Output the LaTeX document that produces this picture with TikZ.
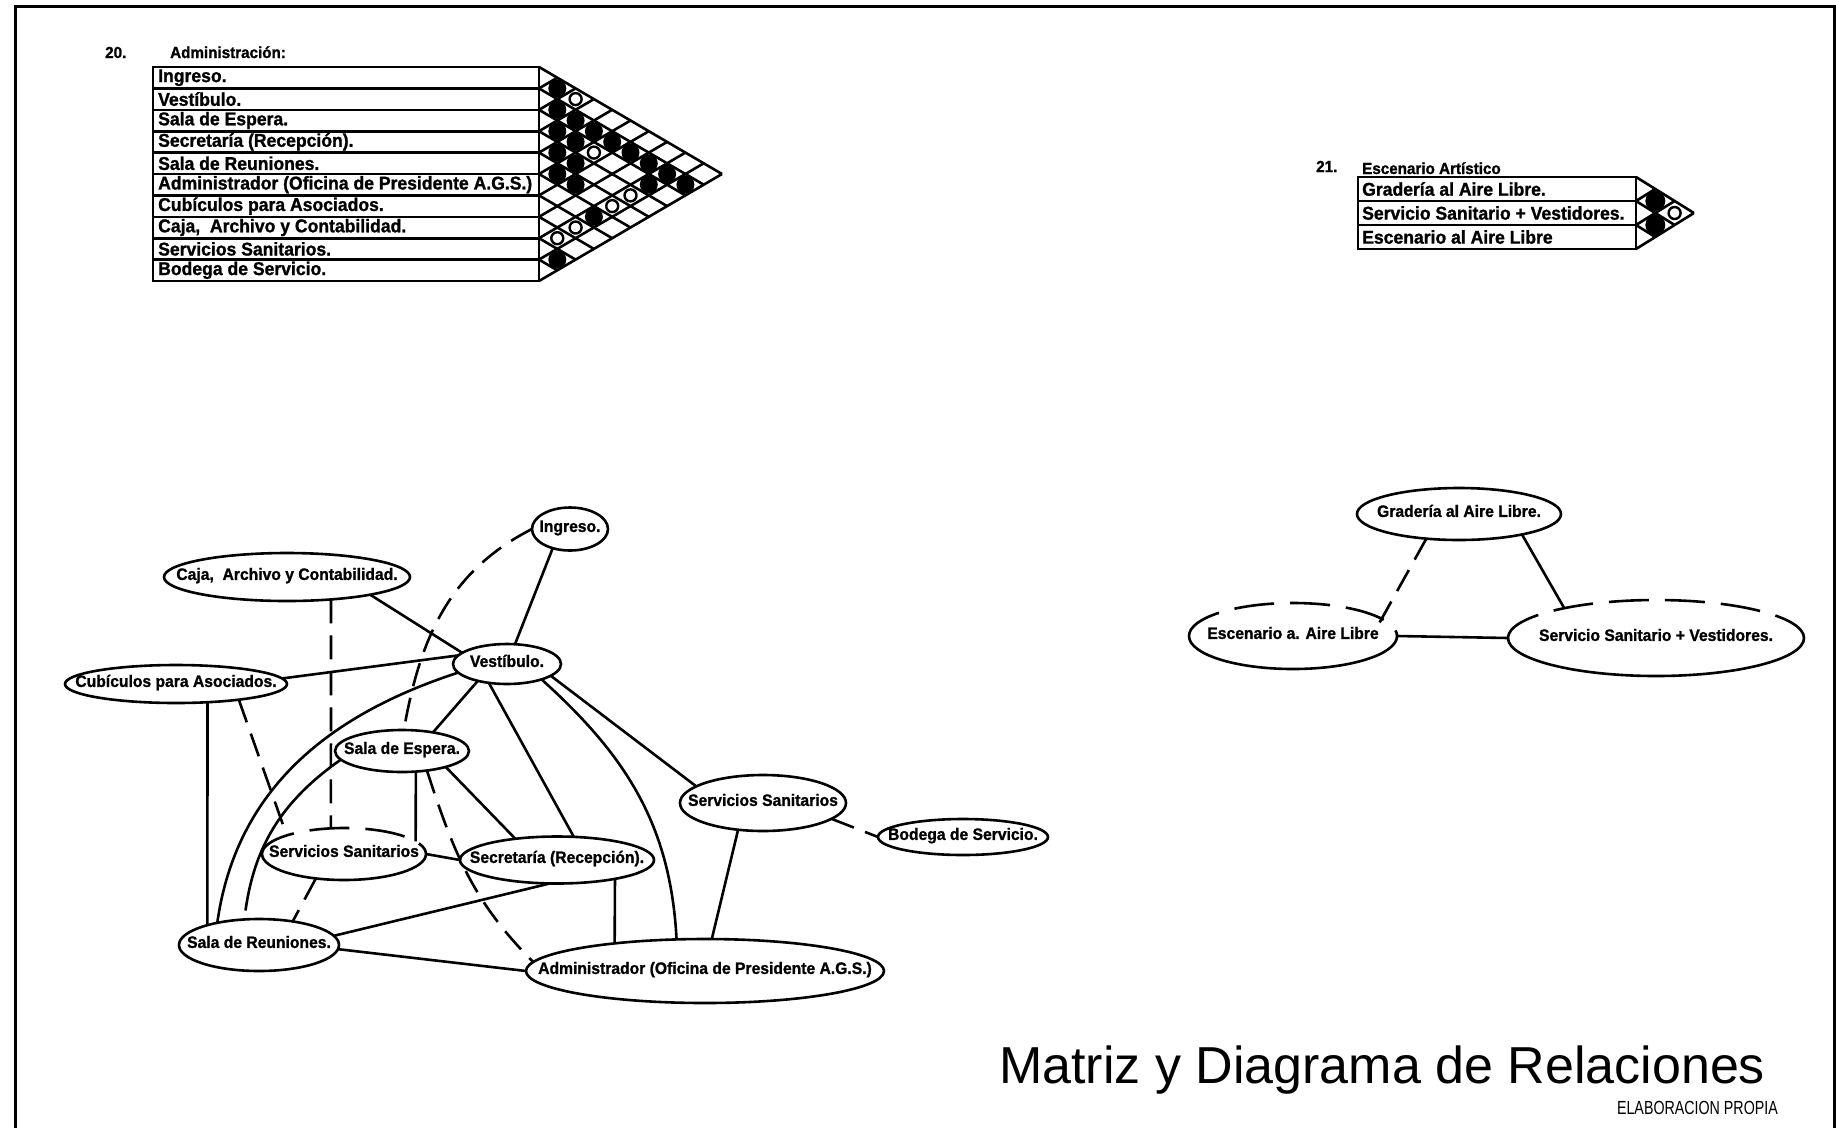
\documentclass[tikz,border=0pt]{standalone}
\usepackage{fontspec}
\setmainfont{Liberation Sans}
\newfontfamily\cadfont[FakeStretch=0.95,FakeBold=1.2]{Liberation Sans Bold}
\newfontfamily\notefont[FakeStretch=0.75]{Liberation Sans}
\usetikzlibrary{shapes.geometric}
\newcommand{\tx}[1]{\makebox[0pt]{#1}}

\begin{document}
\begin{tikzpicture}[
  x=1pt, y=1pt,
  ln/.style={line width=2.6pt},
  dsh/.style={dash pattern=on 24pt off 12pt},
  dshtop/.style={dash pattern=on 40pt off 16pt},
  tbl/.style={line width=2.6pt},
  bub/.style={ellipse,draw,line width=2.6pt,inner sep=0pt,outer sep=0pt,
    font=\cadfont\fontsize{16.5}{16.5}\selectfont,text height=1.4ex,text depth=0.3ex},
  bubcut/.style={bub,draw=none},
  lab/.style={anchor=west,inner sep=0pt,font=\cadfont\fontsize{18.5}{18.5}\selectfont},
  hdr/.style={anchor=base west,inner sep=0pt,font=\cadfont\fontsize{16}{16}\selectfont},
  full/.style={circle,fill=black,inner sep=0pt,minimum size=18pt},
  half/.style={circle,draw,fill=white,line width=2.4pt,inner sep=0pt,minimum size=12pt},
]
\useasboundingbox (0,0) rectangle (1836,-1128);
\draw[line width=3pt] (15,-1128) -- (15,-6) -- (1834,-6) -- (1834,-1128);

% 20. Administracion: matrix
\node[hdr] (n20) at (105,-58) {20.};
\node[hdr] (h20) at (170,-58) {Administración:};
\draw[tbl] (153,-67) rectangle (539,-281);
\foreach \k in {1,...,9}
  \draw[tbl] (153,{-67-21.4*\k}) -- (539,{-67-21.4*\k});
\foreach \k in {0,...,10} {
  \draw[tbl] (539,{-67-21.4*\k}) -- ++({18.3*(10-\k)},{-10.7*(10-\k)});
  \draw[tbl] (539,{-67-21.4*\k}) -- ++({18.3*\k},{10.7*\k});
}
\foreach \t [count=\k from 0] in {Ingreso.,Vestíbulo.,Sala de Espera.,Secretaría (Recepción).,Sala de Reuniones.,Administrador (Oficina de Presidente A.G.S.),Cubículos para Asociados.,{Caja,\ \ Archivo y Contabilidad.},Servicios Sanitarios.,Bodega de Servicio.}
  \node[lab] (r20-\k) at (158,{-67-21.4*(\k+0.5)}) {\t};
\foreach \i/\j in {0/1,1/2,1/3,1/4,1/5,1/6,1/7,1/8,1/9,2/3,2/4,2/8,3/4,3/5,4/5,4/6,5/8,8/9}
  \node[full] (c20-\i-\j) at ({539+18.3*(\j-\i)},{-67-10.7*(\i+\j+1)}) {};
\foreach \i/\j in {0/2,2/5,3/8,4/8,6/8,7/8}
  \node[half] (c20-\i-\j) at ({539+18.3*(\j-\i)},{-67-10.7*(\i+\j+1)}) {};

% 21. Escenario Artistico: matrix
\node[hdr] (n21) at (1316,-172) {21.};
\node[hdr] (h21) at (1362,-174) {Escenario Artístico};
\draw[tbl] (1358,-177) rectangle (1636,-249);
\foreach \k in {1,2}
  \draw[tbl] (1358,{-177-24*\k}) -- (1636,{-177-24*\k});
\foreach \k in {0,...,3} {
  \draw[tbl] (1636,{-177-24*\k}) -- ++({19.3*(3-\k)},{-12*(3-\k)});
  \draw[tbl] (1636,{-177-24*\k}) -- ++({19.3*\k},{12*\k});
}
\foreach \t [count=\k from 0] in {Gradería al Aire Libre.,Servicio Sanitario + Vestidores.,Escenario al Aire Libre}
  \node[lab] (r21-\k) at (1362,{-177-24*(\k+0.5)}) {\t};
\foreach \i/\j in {0/1,1/2}
  \node[full,minimum size=20pt] (c21-\i-\j) at ({1636+19.3*(\j-\i)},{-177-12*(\i+\j+1)}) {};
\node[half] (c21-0-2) at ({1636+19.3*2},{-177-12*3}) {};

% diagram: administracion
\node[bub,minimum width=76pt,minimum height=43pt] (ing) at (570,-529) {\tx{Ingreso.}};
\node[bub,minimum width=246pt,minimum height=48pt] (caja) at (287,-577) {\tx{Caja,\ \ Archivo y Contabilidad.}};
\node[bub,minimum width=108pt,minimum height=40pt] (vest) at (507,-664) {\tx{Vestíbulo.}};
\node[bub,minimum width=222pt,minimum height=38pt] (cub) at (176,-684) {\tx{Cubículos para Asociados.}};
\node[bub,minimum width=134pt,minimum height=42pt] (sde) at (402,-751) {\tx{Sala de Espera.}};
\node[bub,minimum width=166pt,minimum height=56pt] (ssr) at (763,-803) {\tx{Servicios Sanitarios}};
\node[bub,minimum width=170pt,minimum height=36pt] (bod) at (963,-837) {\tx{Bodega de Servicio.}};
\node[bubcut,minimum width=164pt,minimum height=52pt] (ssl) at (344,-854) {\tx{Servicios Sanitarios}};
\node[bub,minimum width=194pt,minimum height=47pt] (sec) at (557,-860) {\tx{Secretaría (Recepción).}};
\node[bub,minimum width=160pt,minimum height=52pt] (sdr) at (259,-945) {\tx{Sala de Reuniones.}};
\node[bub,minimum width=358pt,minimum height=64pt] (adm) at (705,-971) {\tx{Administrador (Oficina de Presidente A.G.S.)}};
\draw[ln] (ssl.east) arc[start angle=0,end angle=-180,x radius=82pt,y radius=26pt];
\draw[ln,dshtop] (ssl.west) arc[start angle=180,end angle=0,x radius=82pt,y radius=26pt];

\draw[ln] (ing.228) -- (vest.68);
\draw[ln,dsh] (ing.180) to[out=207,in=80] (sde.85);
\draw[ln] (caja.-12) -- (vest.166);
\draw[ln,dsh] (caja.-27) -- (ssl.117);
\draw[ln] (cub.3) -- (vest.170);
\draw[ln] (cub.-30) -- (sdr.159);
\draw[ln,dsh] (cub.-14) -- (ssl.162);
\draw[ln] (vest.210) -- (sde.31);
\draw[ln] (vest.226) -- (sec.54);
\draw[ln] (vest.-15) -- (ssr.166);
\draw[ln] (vest.-24) to[out=-42,in=93] (adm.132);
\draw[ln] (vest.190) to[out=198,in=82] (sdr.152);
\draw[ln,shorten >=9pt] (sde.188) to[out=215,in=82] (sdr.120);
\draw[ln] (sde.-56) -- (ssl.10);
\draw[ln] (sde.-20) -- (sec.153);
\draw[ln,dsh] (sde.-38) to[out=-72,in=135] (adm.177);
\draw[ln] (ssl.east) -- (sec.west);
\draw[ln,dsh] (ssl.221) -- (sdr.35);
\draw[ln] (sdr.7) -- (sec.253);
\draw[ln] (sdr.-3) -- (adm.west);
\draw[ln] (sec.-18) -- (adm.163);
\draw[ln] (ssr.227) -- (adm.78);
\draw[ln,dsh] (ssr.-13) -- (bod.west);

% diagram: escenario artistico
\node[bub,minimum width=204pt,minimum height=52pt] (grad) at (1459,-514) {\tx{Gradería al Aire Libre.}};
\node[bubcut,minimum width=208pt,minimum height=66pt] (esc) at (1293,-636) {\tx{Escenario a. Aire Libre}};
\node[bubcut,minimum width=296pt,minimum height=76pt] (ssv) at (1656,-638) {\tx{Servicio Sanitario + Vestidores.}};
\draw[ln] (esc.east) arc[start angle=0,end angle=-180,x radius=104pt,y radius=33pt];
\draw[ln,dshtop] (esc.west) arc[start angle=180,end angle=0,x radius=104pt,y radius=33pt];
\draw[ln] (ssv.east) arc[start angle=0,end angle=-180,x radius=148pt,y radius=38pt];
\draw[ln,dshtop] (ssv.west) arc[start angle=180,end angle=0,x radius=148pt,y radius=38pt];

\draw[ln,dsh,shorten >=-15pt] (grad.217) -- (esc.11);
\draw[ln] (grad.-18) -- (ssv.162);
\draw[ln] (esc.east) -- (ssv.west);

% title
\node[anchor=base west,inner sep=0pt,font=\fontsize{52}{52}\selectfont] (ttl) at (999,-1083) {Matriz y Diagrama de Relaciones};
\node[anchor=base east,inner sep=0pt,font=\notefont\fontsize{19}{19}\selectfont] (src) at (1778,-1114) {ELABORACION PROPIA};
\end{tikzpicture}
\end{document}
